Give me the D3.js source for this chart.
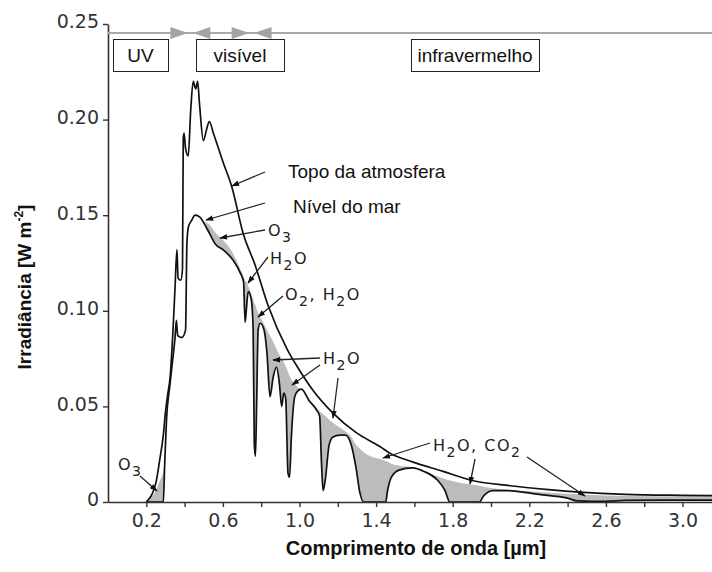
<!DOCTYPE html>
<html>
<head>
<meta charset="utf-8">
<script src="https://cdn.jsdelivr.net/npm/d3@7"></script>
<style>
  body { margin: 0; background: #fff; }
  svg { display: block; }
</style>
</head>
<body>
<svg id="chart" width="712" height="572"></svg>
<script>
// ---- data ----
// top of atmosphere
const toaWave = [0.200, 0.250, 0.270, 0.290, 0.300, 0.310, 0.325, 0.340, 0.350, 0.360, 0.366, 0.380, 0.389, 0.393, 0.397, 0.405, 0.419,
  0.432, 0.445, 0.458, 0.468, 0.478, 0.498, 0.515, 0.529, 0.550, 0.600, 0.646, 0.707, 0.768, 0.835, 0.935, 0.987,
  1.070, 1.175, 1.300, 1.420, 1.470, 1.590, 1.750, 1.890, 2.100, 2.300, 2.460, 2.700, 3.000, 3.200];
const toaIrr = [0, 0.010, 0.022, 0.036, 0.047, 0.055, 0.066, 0.091, 0.112, 0.132, 0.117, 0.116, 0.122, 0.190, 0.193, 0.185, 0.181,
  0.205, 0.220, 0.216, 0.220, 0.208, 0.189, 0.195, 0.199, 0.193, 0.178, 0.165, 0.140, 0.124, 0.103, 0.080, 0.071,
  0.0585, 0.0465, 0.036, 0.029, 0.0256, 0.021, 0.016, 0.0115, 0.0085, 0.0065, 0.0052, 0.004, 0.0035, 0.0033];

// sea level, and sea level without gas absorption (upper edge of the grey bands)
const seaWave = [0.200, 0.250, 0.270, 0.289, 0.296, 0.306, 0.322, 0.335, 0.350, 0.357, 0.364, 0.386, 0.405, 0.412,
  0.420, 0.435, 0.455, 0.480, 0.500, 0.530, 0.560, 0.600, 0.653, 0.690, 0.708, 0.716, 0.722, 0.732, 0.748, 0.758,
  0.764, 0.770, 0.776, 0.784, 0.795, 0.815, 0.830, 0.846, 0.862, 0.880, 0.895, 0.907, 0.918, 0.928, 0.940, 0.948,
  0.958, 0.975, 0.990, 1.010, 1.050, 1.090, 1.105, 1.115, 1.123, 1.135, 1.155, 1.175, 1.210, 1.240, 1.270, 1.295,
  1.315, 1.335, 1.400, 1.450, 1.460, 1.480, 1.520, 1.590, 1.650, 1.720, 1.760, 1.785, 1.850, 1.940, 1.960, 2.010,
  2.080, 2.250, 2.400, 2.450, 2.600, 2.700, 3.000, 3.200];
const seaIrr = [0, 0, 0, 0, 0.020, 0.044, 0.060, 0.072, 0.086, 0.095, 0.087, 0.086, 0.090, 0.135,
  0.144, 0.147, 0.150, 0.149, 0.146, 0.1405, 0.135, 0.132, 0.1265, 0.120, 0.115, 0.094, 0.100, 0.110, 0.106, 0.090,
  0.030, 0.024, 0.050, 0.090, 0.0935, 0.090, 0.078, 0.055, 0.065, 0.0705, 0.062, 0.050, 0.057, 0.054, 0.015, 0.013,
  0.035, 0.055, 0.058, 0.059, 0.053, 0.048, 0.045, 0.020, 0.006, 0.012, 0.030, 0.034, 0.035, 0.035, 0.030, 0.018,
  0.005, 0, 0, 0, 0.006, 0.013, 0.0167, 0.0178, 0.016, 0.0115, 0.006, 0, 0, 0, 0.003, 0.006,
  0.006, 0.004, 0.002, 0.0006, 0.0003, 0.0008, 0.001, 0.001];
const clearIrr = [0, 0.006, 0.011, 0.016, 0.022, 0.044, 0.060, 0.072, 0.086, 0.095, 0.087, 0.086, 0.090, 0.135,
  0.144, 0.147, 0.150, 0.149, 0.147, 0.145, 0.141, 0.137, 0.130, 0.122, 0.118, 0.116, 0.115, 0.113, 0.109, 0.106,
  0.104, 0.103, 0.101, 0.099, 0.097, 0.093, 0.090, 0.087, 0.084, 0.080, 0.077, 0.075, 0.073, 0.071, 0.068, 0.066,
  0.064, 0.062, 0.060, 0.059, 0.054, 0.049, 0.0475, 0.0465, 0.046, 0.045, 0.043, 0.0415, 0.039, 0.037, 0.034, 0.030,
  0.028, 0.026, 0.023, 0.0215, 0.021, 0.020, 0.019, 0.0182, 0.016, 0.0135, 0.012, 0.0112, 0.0098, 0.0085, 0.008, 0.0072,
  0.0065, 0.0052, 0.0043, 0.0041, 0.0034, 0.0032, 0.003, 0.003];

const xTicks = [0.2, 0.4, 0.6, 0.8, 1.0, 1.2, 1.4, 1.6, 1.8, 2.0, 2.2, 2.4, 2.6, 2.8, 3.0];
const xTickLabels = ['0.2', '', '0.6', '', '1.0', '', '1.4', '', '1.8', '', '2.2', '', '2.6', '', '3.0'];
const yTicks = [0, 0.05, 0.10, 0.15, 0.20, 0.25];
const yTickLabels = ['0', '0.05', '0.10', '0.15', '0.20', '0.25'];

const bandEdges = [0.43, 0.75];          // UV | visível | infravermelho
const bandNames = ['UV', 'visível', 'infravermelho'];

// ---- layout ----
const svg = d3.select('#chart');
const x = d3.scaleLinear().domain([0, 3.154]).range([108, 712]);
const y = d3.scaleLinear().domain([0, 0.25]).range([502, 24]);

const labelFont = '"Liberation Sans", Arial, sans-serif';
const oldFont = '"DejaVu Sans", sans-serif';

const defs = svg.append('defs');
defs.append('marker')
  .attr('id', 'ah')
  .attr('viewBox', '0 0 10 10')
  .attr('refX', 9).attr('refY', 5)
  .attr('markerWidth', 8).attr('markerHeight', 8)
  .attr('markerUnits', 'userSpaceOnUse')
  .attr('orient', 'auto')
  .append('path').attr('d', 'M0,1.5L10,5L0,8.5Z').attr('fill', '#111');

// grey absorption bands
const idx = d3.range(seaWave.length);
const curve = d3.curveMonotoneX;
svg.append('path')
  .datum(idx)
  .attr('fill', '#bcbcbc')
  .attr('d', d3.area().curve(curve)
    .x(i => x(seaWave[i]))
    .y0(i => y(seaIrr[i]))
    .y1(i => y(clearIrr[i])));

svg.append('path')
  .datum(idx)
  .attr('fill', 'none').attr('stroke', '#111').attr('stroke-width', 1.7)
  .attr('stroke-linejoin', 'round')
  .attr('d', d3.line().curve(curve).x(i => x(seaWave[i])).y(i => y(seaIrr[i])));

svg.append('path')
  .datum(d3.range(toaWave.length))
  .attr('fill', 'none').attr('stroke', '#111').attr('stroke-width', 1.7)
  .attr('stroke-linejoin', 'round')
  .attr('d', d3.line().curve(curve).x(i => x(toaWave[i])).y(i => y(toaIrr[i])));

// axes
const xAxis = svg.append('g')
  .attr('transform', 'translate(0,' + y(0) + ')')
  .call(d3.axisBottom(x).tickValues(xTicks).tickSize(5).tickSizeOuter(0).tickPadding(7)
    .tickFormat((d, i) => xTickLabels[i]));
const yAxis = svg.append('g')
  .attr('transform', 'translate(' + x(0) + ',0)')
  .call(d3.axisLeft(y).tickValues(yTicks).tickSize(5).tickSizeOuter(0).tickPadding(4)
    .tickFormat((d, i) => yTickLabels[i]));
[xAxis, yAxis].forEach(g => {
  g.select('.domain').attr('stroke', '#333').attr('stroke-width', 1.6);
  g.selectAll('.tick line').attr('stroke', '#333').attr('stroke-width', 1.4);
  g.selectAll('.tick text').attr('fill', '#333').style('font-family', oldFont).style('font-size', '19px');
});
yAxis.selectAll('.tick text').attr('dy', '0.2em');

// spectral band strip on top
svg.append('line')
  .attr('x1', x(0)).attr('x2', 712).attr('y1', 33).attr('y2', 33)
  .attr('stroke', '#aaa').attr('stroke-width', 2);
bandEdges.forEach(b => {
  const bx = x(b);
  svg.append('path').attr('fill', '#a4a4a4')
    .attr('d', `M${bx - 20},27L${bx - 2.5},33L${bx - 20},39Z`);
  svg.append('path').attr('fill', '#a4a4a4')
    .attr('d', `M${bx + 20},27L${bx + 2.5},33L${bx + 20},39Z`);
});
const boxes = [[113, 168], [196, 284], [411, 539]];
bandNames.forEach((name, i) => {
  const [a, b] = boxes[i];
  svg.append('rect')
    .attr('x', a + 0.5).attr('y', 39.5).attr('width', b - a).attr('height', 32)
    .attr('fill', '#fff').attr('stroke', '#222').attr('stroke-width', 1);
  svg.append('text')
    .attr('x', (a + b) / 2).attr('y', 62).attr('text-anchor', 'middle')
    .style('font-family', labelFont).style('font-size', '19px').attr('fill', '#111')
    .text(name);
});

// curve labels
const arrow = (x1, y1, x2, y2) => svg.append('line')
  .attr('x1', x1).attr('y1', y1).attr('x2', x2).attr('y2', y2)
  .attr('stroke', '#222').attr('stroke-width', 1.3).attr('marker-end', 'url(#ah)');

svg.append('text').attr('x', 288).attr('y', 178)
  .style('font-family', labelFont).style('font-size', '19px').attr('fill', '#111')
  .text('Topo da atmosfera');
svg.append('text').attr('x', 293).attr('y', 213)
  .style('font-family', labelFont).style('font-size', '19px').attr('fill', '#111')
  .text('Nível do mar');
arrow(265, 172, 232, 186);
arrow(265, 203, 206, 220);

// gas labels, old lettering with subscripts
const gasNotes = [
  { x: 118, y: 470, parts: [['O'], ['3', 1]] },
  { x: 268, y: 236, parts: [['O'], ['3', 1]] },
  { x: 270, y: 264, parts: [['H'], ['2', 1], ['O']] },
  { x: 285, y: 300, parts: [['O'], ['2', 1], [', H'], ['2', 1], ['O']] },
  { x: 323, y: 364, parts: [['H'], ['2', 1], ['O']] },
  { x: 433, y: 451, parts: [['H'], ['2', 1], ['O, CO'], ['2', 1]] }
];
gasNotes.forEach(n => {
  const t = svg.append('text').attr('x', n.x).attr('y', n.y)
    .style('font-family', oldFont).style('font-size', '16px')
    .style('letter-spacing', '1.5px').attr('fill', '#222');
  let low = false;
  n.parts.forEach(([s, sub]) => {
    const sp = t.append('tspan').text(s);
    if (sub && !low) { sp.attr('dy', 6).style('font-size', '14px'); low = true; }
    else if (!sub && low) { sp.attr('dy', -6); low = false; }
  });
});
arrow(140, 476, 157, 491);
arrow(265, 230, 220, 238);
arrow(268, 257, 248, 283);
arrow(283, 296, 258, 317);
arrow(320, 358, 273, 360);
arrow(320, 365, 292, 385);
arrow(338, 378, 333, 418);
arrow(430, 443, 383, 458);
arrow(475, 459, 470, 484);
arrow(527, 457, 585, 496);

// axis titles
svg.append('text')
  .attr('x', 416).attr('y', 555).attr('text-anchor', 'middle')
  .style('font-family', labelFont).style('font-size', '20px').style('font-weight', 'bold')
  .attr('fill', '#111')
  .text('Comprimento de onda [µm]');
const yt = svg.append('text')
  .attr('transform', 'translate(31,287) rotate(-90)')
  .attr('text-anchor', 'middle')
  .style('font-family', labelFont).style('font-size', '19px').style('font-weight', 'bold')
  .attr('fill', '#111');
yt.append('tspan').text('Irradiância [W m');
yt.append('tspan').text('-2').attr('dy', -8).style('font-size', '12px');
yt.append('tspan').text(']').attr('dy', 8);
</script>
</body>
</html>
